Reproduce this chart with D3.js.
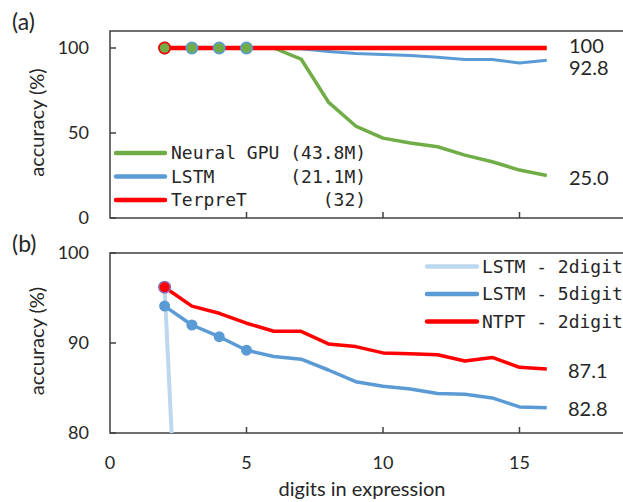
<!DOCTYPE html>
<html>
<head>
<meta charset="utf-8">
<script src="https://cdn.jsdelivr.net/npm/d3@7"></script>
<style>
  html, body { margin: 0; padding: 0; background: #ffffff; overflow: hidden; }
  svg { display: block; }
  text { font-family: Lato, "Open Sans", sans-serif; fill: #262626; }
  .mono { font-family: "DejaVu Sans Mono", monospace; white-space: pre; }
</style>
</head>
<body>
<svg id="chart"></svg>
<script>
// ---- data ----
const digits = [2, 3, 4, 5, 6, 7, 8, 9, 10, 11, 12, 13, 14, 15, 16];

// panel (a)
const neuralGpu = [100, 100, 100, 100, 100, 93.5, 68.2, 54.1, 47, 44.1, 41.9, 37, 33.1, 28.2, 25.0];
const lstmA     = [100, 100, 100, 100, 100, 99.5, 98, 96.8, 96.2, 95.6, 94.6, 93.3, 93.2, 91.2, 92.8];
const terpret   = [100, 100, 100, 100, 100, 100, 100, 100, 100, 100, 100, 100, 100, 100, 100];

// panel (b)
const lstm2Digits = [2, 3];
const lstm2       = [96.2, 33];
const lstm5       = [94.1, 92.0, 90.7, 89.2, 88.5, 88.2, 87.0, 85.7, 85.2, 84.9, 84.4, 84.3, 83.9, 82.9, 82.8];
const ntpt        = [96.2, 94.1, 93.3, 92.2, 91.3, 91.3, 89.9, 89.6, 88.9, 88.8, 88.7, 88.0, 88.4, 87.3, 87.1];

const markerDigits = [2, 3, 4, 5];   // trained lengths marked with dots

const legendA = ["Neural GPU (43.8M)", "LSTM       (21.1M)", "TerpreT       (32)"];
const legendB = ["LSTM - 2digits", "LSTM - 5digits", "NTPT - 2digits"];

const endLabelsA = [["100", 101.4], ["92.8", 88.5], ["25.0", 23.8]];
const endLabelsB = [["87.1", 86.9], ["82.8", 82.7]];

const xTicks = [0, 5, 10, 15];
const yTicksA = [0, 50, 100];
const yTicksB = [80, 90, 100];

// ---- layout ----
const width = 623, height = 502;
const green = "#70ad47", blue = "#5b9bd5", red = "#ff0000", lightBlue = "#bdd7ee";

const svg = d3.select("#chart").attr("width", width).attr("height", height);

const x = d3.scaleLinear().domain([0, 20]).range([110, 656]);
const yA = d3.scaleLinear().domain([0, 110]).range([218, 31]);
const yB = d3.scaleLinear().domain([80, 100]).range([433, 253]);

const defs = svg.append("defs");

function panel(id, y, yTicks, label, labelY) {
  const g = svg.append("g");
  const [y0, y1] = y.range();

  defs.append("clipPath").attr("id", "clip-" + id)
    .append("rect")
    .attr("x", x.range()[0]).attr("y", y1)
    .attr("width", x.range()[1] - x.range()[0]).attr("height", y0 - y1);

  // frame
  g.append("rect")
    .attr("x", x.range()[0]).attr("y", y1)
    .attr("width", x.range()[1] - x.range()[0]).attr("height", y0 - y1)
    .attr("fill", "none").attr("stroke", "#404040").attr("stroke-width", 1.5);

  // y ticks, inside
  g.selectAll(".ytick").data(yTicks).join("line")
    .attr("x1", x.range()[0]).attr("x2", x.range()[0] + 6)
    .attr("y1", d => y(d)).attr("y2", d => y(d))
    .attr("stroke", "#404040").attr("stroke-width", 1.5);

  g.selectAll(".ylab").data(yTicks).join("text")
    .attr("x", 89).attr("y", d => y(d))
    .attr("dy", "0.36em").attr("text-anchor", "end")
    .style("font-size", "18px")
    .text(d => d);

  // x ticks, inside
  g.selectAll(".xtick").data(xTicks.filter(d => d > 0)).join("line")
    .attr("x1", d => x(d)).attr("x2", d => x(d))
    .attr("y1", y0).attr("y2", y0 - 6)
    .attr("stroke", "#404040").attr("stroke-width", 1.5);

  // y axis title
  g.append("text")
    .attr("transform", `translate(44, ${(y0 + y1) / 2 - 2}) rotate(-90)`)
    .attr("text-anchor", "middle")
    .style("font-size", "20px")
    .text("accuracy (%)");

  // panel letter
  g.append("text")
    .attr("x", 12).attr("y", labelY)
    .style("font-size", "23px")
    .text(label);

  const plot = g.append("g").attr("clip-path", `url(#clip-${id})`);
  return { g, plot };
}

const line = yScale => d3.line().x(d => x(d[0])).y(d => yScale(d[1]));
const zip = (xs, vs) => xs.map((d, i) => [d, vs[i]]);

// ---- panel (a) ----
const a = panel("a", yA, yTicksA, "(a)", 30);

[[neuralGpu, green, 3.5], [lstmA, blue, 3], [terpret, red, 4.5]].forEach(([vals, col, w]) => {
  a.plot.append("path")
    .datum(zip(digits, vals))
    .attr("d", line(yA))
    .attr("fill", "none").attr("stroke", col)
    .attr("stroke-width", w).attr("stroke-linejoin", "round");
});

// markers: blue rings (LSTM), red ring (TerpreT) at 2, green dots on top
a.plot.selectAll(".mLstm").data(markerDigits).join("circle")
  .attr("cx", d => x(d)).attr("cy", d => yA(lstmA[digits.indexOf(d)]))
  .attr("r", 6.5).attr("fill", blue);
a.plot.append("circle")
  .attr("cx", x(digits[0])).attr("cy", yA(terpret[0]))
  .attr("r", 6.5).attr("fill", red);
a.plot.selectAll(".mGpu").data(markerDigits).join("circle")
  .attr("cx", d => x(d)).attr("cy", d => yA(neuralGpu[digits.indexOf(d)]))
  .attr("r", 4.8).attr("fill", green);

// legend (a)
const legA = a.g.append("g");
[green, blue, red].forEach((col, i) => {
  const ly = 153 + i * 23.5;
  legA.append("line")
    .attr("x1", 116).attr("x2", 165).attr("y1", ly).attr("y2", ly)
    .attr("stroke", col).attr("stroke-width", 4.5).attr("stroke-linecap", "round");
  legA.append("text").attr("class", "mono")
    .attr("x", 171).attr("y", ly).attr("dy", "0.36em")
    .style("font-size", "18px")
    .text(legendA[i]);
});

a.g.selectAll(".endA").data(endLabelsA).join("text")
  .attr("x", 569).attr("y", d => yA(d[1])).attr("dy", "0.36em")
  .style("font-size", "20px")
  .text(d => d[0]);

// ---- panel (b) ----
const b = panel("b", yB, yTicksB, "(b)", 252);

[[zip(lstm2Digits, lstm2), lightBlue, 4], [zip(digits, lstm5), blue, 3.5], [zip(digits, ntpt), red, 3.5]].forEach(([pts, col, w]) => {
  b.plot.append("path")
    .datum(pts)
    .attr("d", line(yB))
    .attr("fill", "none").attr("stroke", col)
    .attr("stroke-width", w).attr("stroke-linejoin", "round");
});

b.plot.selectAll(".m5").data(markerDigits).join("circle")
  .attr("cx", d => x(d)).attr("cy", d => yB(lstm5[digits.indexOf(d)]))
  .attr("r", 5.5).attr("fill", blue);
b.plot.append("circle")
  .attr("cx", x(lstm2Digits[0])).attr("cy", yB(lstm2[0]))
  .attr("r", 6.5).attr("fill", "#8a6fb3");
b.plot.append("circle")
  .attr("cx", x(digits[0])).attr("cy", yB(ntpt[0]))
  .attr("r", 5).attr("fill", red);

// x tick labels + title
b.g.selectAll(".xlab").data(xTicks).join("text")
  .attr("x", d => x(d)).attr("y", 463).attr("dy", "0.36em")
  .attr("text-anchor", "middle")
  .style("font-size", "18px")
  .text(d => d);

b.g.append("text")
  .attr("x", 362).attr("y", 496)
  .attr("text-anchor", "middle")
  .style("font-size", "20px")
  .text("digits in expression");

// legend (b)
const legB = b.g.append("g");
[lightBlue, blue, red].forEach((col, i) => {
  const ly = 266.5 + i * 27.5;
  legB.append("line")
    .attr("x1", 427).attr("x2", 477).attr("y1", ly).attr("y2", ly)
    .attr("stroke", col).attr("stroke-width", 4.5).attr("stroke-linecap", "round");
  legB.append("text").attr("class", "mono")
    .attr("x", 482).attr("y", ly).attr("dy", "0.36em")
    .style("font-size", "18px")
    .text(legendB[i]);
});

b.g.selectAll(".endB").data(endLabelsB).join("text")
  .attr("x", 568).attr("y", d => yB(d[1])).attr("dy", "0.36em")
  .style("font-size", "20px")
  .text(d => d[0]);
</script>
</body>
</html>
